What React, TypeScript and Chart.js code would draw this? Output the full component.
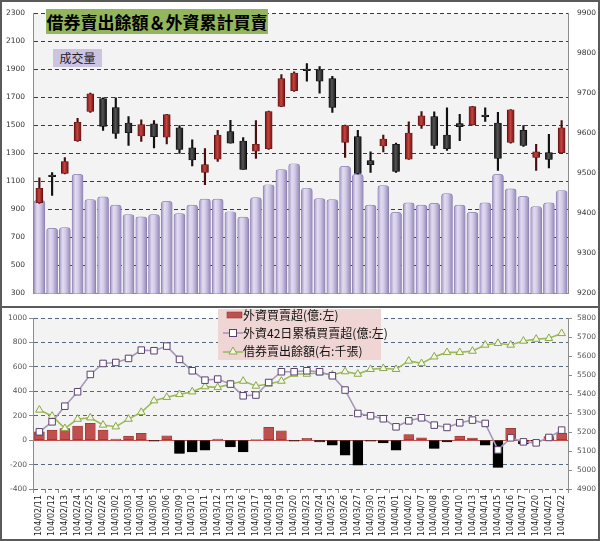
import React, { useEffect, useRef } from "react";
import { Chart, registerables } from "chart.js";

Chart.register(...registerables);

// ---------- data ----------
const dates = [
  "104/02/11", "104/02/12", "104/02/13", "104/02/24", "104/02/25", "104/02/26",
  "104/03/02", "104/03/03", "104/03/04", "104/03/05", "104/03/06",
  "104/03/09", "104/03/10", "104/03/11", "104/03/12", "104/03/13",
  "104/03/16", "104/03/17", "104/03/18", "104/03/19", "104/03/20",
  "104/03/23", "104/03/24", "104/03/25", "104/03/26", "104/03/27",
  "104/03/30", "104/03/31", "104/04/01", "104/04/02",
  "104/04/07", "104/04/08", "104/04/09", "104/04/10",
  "104/04/13", "104/04/14", "104/04/15", "104/04/16", "104/04/17",
  "104/04/20", "104/04/21", "104/04/22",
];

// 成交量 (億, left axis of top chart)
const volume = [
  965, 765, 771, 1151, 971, 990, 932, 863, 847, 863, 958, 870, 932, 974, 974, 884,
  845, 985, 1077, 1185, 1227, 1052, 978, 971, 1208, 1151, 932, 1070, 879, 948, 932,
  944, 1013, 932, 879, 948, 1151, 1047, 994, 921, 948, 1036,
];

// index candles (right axis of top chart)
const openP = [
  9427, 9496, 9500, 9582, 9655, 9687, 9665, 9626, 9594, 9624, 9591, 9614, 9564, 9503,
  9536, 9605, 9581, 9556, 9562, 9668, 9707, 9761, 9759, 9737, 9578, 9592, 9532, 9569,
  9573, 9536, 9620, 9642, 9596, 9625, 9622, 9646, 9626, 9578, 9608, 9540, 9552, 9552,
];
const highP = [
  9489, 9502, 9540, 9638, 9701, 9689, 9689, 9642, 9634, 9632, 9648, 9620, 9584, 9562,
  9608, 9633, 9590, 9632, 9656, 9747, 9754, 9775, 9767, 9743, 9621, 9608, 9554, 9596,
  9576, 9629, 9655, 9654, 9664, 9648, 9668, 9664, 9653, 9660, 9620, 9573, 9598, 9632,
];
const lowP = [
  9425, 9445, 9499, 9580, 9653, 9608, 9588, 9570, 9580, 9564, 9574, 9550, 9519, 9472,
  9530, 9576, 9510, 9538, 9560, 9667, 9705, 9731, 9701, 9653, 9540, 9499, 9503, 9554,
  9503, 9535, 9613, 9562, 9558, 9582, 9621, 9630, 9508, 9576, 9568, 9508, 9514, 9550,
];
const closeP = [
  9463, 9492, 9530, 9628, 9699, 9618, 9600, 9602, 9622, 9592, 9647, 9560, 9534, 9522,
  9596, 9576, 9510, 9573, 9655, 9737, 9751, 9757, 9731, 9665, 9620, 9500, 9522, 9586,
  9505, 9601, 9644, 9570, 9562, 9617, 9667, 9642, 9538, 9659, 9570, 9554, 9535, 9614,
];

// 外資買賣超 (億, left axis of bottom chart)
const foreignNet = [
  68, 82, 95, 115, 137, 82, 8, 33, 55, -8, 35, -109, -96, -82, 8, -55, -96, 3, 104, 76,
  -8, 14, -14, -41, -123, -205, -8, -22, -82, 46, 19, -68, -15, 33, 16, -41, -224, 96,
  -30, -8, 30, 55,
];
// 外資42日累積買賣超 (億, left axis)
const foreignCum42 = [
  68, 150, 278, 396, 538, 628, 636, 669, 737, 732, 770, 661, 568, 491, 500, 459, 363,
  369, 472, 560, 560, 568, 560, 527, 410, 218, 199, 175, 109, 158, 183, 123, 104, 142,
  164, 137, -80, 19, -14, -22, 22, 82,
];
// 借券賣出餘額 (千張, right axis)
const shortBalance = [
  5316, 5284, 5219, 5268, 5275, 5237, 5228, 5268, 5304, 5365, 5383, 5398, 5412, 5439,
  5435, 5451, 5468, 5442, 5453, 5468, 5505, 5505, 5512, 5500, 5518, 5505, 5530, 5535,
  5530, 5574, 5561, 5596, 5619, 5619, 5626, 5658, 5667, 5658, 5679, 5689, 5693, 5719,
];

const titleText = "借券賣出餘額＆外資累計買賣";
const volumeLabel = "成交量";
const legendNet = "外資買賣超(億:左)";
const legendCum = "外資42日累積買賣超(億:左)";
const legendShort = "借券賣出餘額(右:千張)";

// ---------- helpers ----------
const tickFont = { family: "DejaVu Sans", size: 7.5 };
const plain = (v: any) => String(v);

function hGrad(c: any, half: number, stops: [number, string][], fallback: string) {
  if (!c || c.type !== "data" || c.dataIndex == null) return fallback;
  const chart = c.chart;
  const xs = chart.scales && chart.scales.x;
  if (!xs) return fallback;
  const cx = xs.getPixelForValue(c.dataIndex);
  if (!isFinite(cx)) return fallback;
  const g = chart.ctx.createLinearGradient(cx - half, 0, cx + half, 0);
  stops.forEach(([o, col]) => g.addColorStop(o, col));
  return g;
}

const isUp = (i: number) => closeP[i] - openP[i] > 5;

const plotBg = {
  id: "plotBg",
  beforeDraw(chart: any) {
    const { ctx, chartArea } = chart;
    if (!chartArea) return;
    ctx.save();
    ctx.fillStyle = "#f3f3f3";
    ctx.fillRect(chartArea.left, chartArea.top, chartArea.right - chartArea.left, chartArea.bottom - chartArea.top);
    ctx.restore();
  },
};

export default function App() {
  const topRef = useRef<HTMLCanvasElement>(null);
  const botRef = useRef<HTMLCanvasElement>(null);

  useEffect(() => {
    document.body.style.margin = "0";
    const wicks = dates.map((_, i) => [lowP[i], highP[i]]);
    const bodies = dates.map((_, i) => [openP[i], closeP[i]]);

    const top = new Chart(topRef.current as HTMLCanvasElement, {
      type: "bar",
      data: {
        labels: dates,
        datasets: [
          {
            label: volumeLabel,
            data: volume,
            yAxisID: "yL",
            grouped: false,
            order: 3,
            barThickness: 11,
            backgroundColor: (c: any) =>
              hGrad(c, 5.5, [[0, "#a497c6"], [0.3, "#e2dcf0"], [0.55, "#d4cbe8"], [1, "#9487b8"]], "#c9bfe0"),
            borderColor: "#8d80b2",
            borderWidth: 0.7,
            borderSkipped: "bottom",
            borderRadius: { topLeft: 3, topRight: 3, bottomLeft: 0, bottomRight: 0 },
          } as any,
          {
            label: "wick",
            data: wicks,
            yAxisID: "yR",
            grouped: false,
            order: 2,
            barThickness: 1.5,
            backgroundColor: dates.map((_, i) => (isUp(i) ? "#4a1010" : "#111111")),
          } as any,
          {
            label: "body",
            data: bodies,
            yAxisID: "yR",
            grouped: false,
            order: 1,
            barThickness: 7,
            backgroundColor: (c: any) => {
              const i = c.dataIndex;
              if (i == null) return "#333";
              return isUp(i)
                ? hGrad(c, 3.5, [[0, "#6e1414"], [0.45, "#c9443e"], [1, "#6a1212"]], "#b03030")
                : hGrad(c, 3.5, [[0, "#151515"], [0.45, "#555555"], [1, "#111111"]], "#222");
            },
            borderColor: dates.map((_, i) => (isUp(i) ? "#5a1010" : "#000")),
            borderWidth: 0.6,
            borderSkipped: false,
          } as any,
        ],
      },
      options: {
        responsive: false,
        animation: false,
        layout: { padding: { top: 10, bottom: 7, left: 0, right: 0 } },
        plugins: { legend: { display: false }, tooltip: { enabled: false } },
        scales: {
          x: {
            offset: true,
            grid: { display: false },
            ticks: { display: false },
            border: { display: true, color: "#8c8c8c" },
            afterFit: (s: any) => {
              s.height = 0;
            },
          },
          yL: {
            position: "left",
            min: 300,
            max: 2300,
            ticks: { stepSize: 200, color: "#333", font: tickFont, padding: 8, callback: plain },
            grid: { color: "#3a3a3a", lineWidth: 1, drawTicks: false },
            border: { display: true, color: "#8c8c8c", dash: [4, 3] },
            afterFit: (s: any) => {
              s.width = 33;
            },
          },
          yR: {
            position: "right",
            min: 9200,
            max: 9900,
            ticks: { stepSize: 100, color: "#333", font: tickFont, padding: 9, callback: plain },
            grid: { display: false, drawTicks: false },
            border: { display: true, color: "#8c8c8c" },
            afterFit: (s: any) => {
              s.width = 32;
            },
          },
        },
      } as any,
      plugins: [plotBg],
    });

    const bot = new Chart(botRef.current as HTMLCanvasElement, {
      type: "bar",
      data: {
        labels: dates,
        datasets: [
          {
            type: "line",
            label: legendCum,
            data: foreignCum42,
            yAxisID: "yL",
            order: 1,
            borderColor: "#a797b9",
            borderWidth: 1.6,
            tension: 0,
            pointStyle: "rect",
            pointRadius: 4.6,
            pointBackgroundColor: "#ffffff",
            pointBorderColor: "#5a4070",
            pointBorderWidth: 1,
          } as any,
          {
            type: "line",
            label: legendShort,
            data: shortBalance,
            yAxisID: "yR",
            order: 2,
            borderColor: "#9bbb59",
            borderWidth: 1.6,
            tension: 0,
            pointStyle: "triangle",
            pointRadius: 4.4,
            pointBackgroundColor: "#f4f6e4",
            pointBorderColor: "#8aa84a",
            pointBorderWidth: 1,
          } as any,
          {
            type: "bar",
            label: legendNet,
            data: foreignNet,
            yAxisID: "yL",
            order: 3,
            barThickness: 10,
            backgroundColor: foreignNet.map((v) => (v >= 0 ? "#c0504d" : "#000000")),
            borderColor: foreignNet.map((v) => (v >= 0 ? "#8f3a38" : "#000000")),
            borderWidth: 0.6,
            borderSkipped: false,
          } as any,
        ],
      },
      options: {
        responsive: false,
        animation: false,
        layout: { padding: { top: 10, bottom: 0, left: 0, right: 0 } },
        plugins: { legend: { display: false }, tooltip: { enabled: false } },
        scales: {
          x: {
            offset: true,
            grid: { display: true, drawOnChartArea: false, drawTicks: true, tickLength: 4, color: "#8c8c8c", offset: true },
            border: { display: false },
            ticks: {
              autoSkip: false,
              maxRotation: 90,
              minRotation: 90,
              color: "#222",
              font: { family: "DejaVu Sans", size: 8 },
              padding: 2,
            },
            afterFit: (s: any) => {
              s.height = 52;
            },
          },
          yL: {
            position: "left",
            min: -400,
            max: 1000,
            ticks: { stepSize: 200, color: "#555", font: tickFont, padding: 2, callback: plain },
            grid: {
              color: (c: any) => (c.tick && c.tick.value === 0 ? "#c0504d" : "#56667e"),
              lineWidth: 1,
              drawTicks: true,
              tickLength: 4,
              tickColor: "#8c8c8c",
            },
            border: {
              display: true,
              color: "#8c8c8c",
              dash: (c: any) => (c.tick && c.tick.value === 0 ? [] : [4, 3]),
            },
            afterFit: (s: any) => {
              s.width = 33;
            },
          },
          yR: {
            position: "right",
            min: 4900,
            max: 5800,
            ticks: { stepSize: 100, color: "#555", font: tickFont, padding: 5, callback: plain },
            grid: { display: true, drawOnChartArea: false, drawTicks: true, tickLength: 4, color: "#8c8c8c" },
            border: { display: true, color: "#8c8c8c" },
            afterFit: (s: any) => {
              s.width = 32;
            },
          },
        },
      } as any,
      plugins: [plotBg],
    });

    return () => {
      top.destroy();
      bot.destroy();
    };
  }, []);

  const legendRow = (centerY: number, kind: string, text: string) => (
    <div
      key={text}
      style={{
        position: "absolute",
        left: 0,
        top: centerY - 9,
        height: 18,
        display: "flex",
        alignItems: "center",
        whiteSpace: "nowrap",
      }}
    >
      <svg width={25} height={14} style={{ display: "block" }}>
        {kind === "bar" && <rect x={9} y={4} width={15} height={6} fill="#c0504d" stroke="#8f3a38" strokeWidth={0.6} />}
        {kind === "square" && (
          <g>
            <line x1={5} y1={7} x2={25} y2={7} stroke="#a797b9" strokeWidth={1.6} />
            <rect x={11.5} y={3.5} width={7} height={7} fill="#fff" stroke="#5a4070" strokeWidth={1} />
          </g>
        )}
        {kind === "tri" && (
          <g>
            <line x1={5} y1={8} x2={25} y2={8} stroke="#9bbb59" strokeWidth={1.6} />
            <polygon points="15,3 19,10 11,10" fill="#f4f6e4" stroke="#8aa84a" strokeWidth={1} />
          </g>
        )}
      </svg>
      <span style={{ fontFamily: "'Noto Sans CJK TC', sans-serif", fontSize: 12, color: "#111", lineHeight: "18px" }}>
        {text}
      </span>
    </div>
  );

  return (
    <div style={{ position: "relative", width: 600, height: 541, background: "#ffffff", overflow: "hidden" }}>
      <canvas ref={topRef} width={600} height={307} style={{ position: "absolute", left: 0, top: 0, width: 600, height: 307 }} />
      <canvas ref={botRef} width={600} height={233} style={{ position: "absolute", left: 0, top: 308, width: 600, height: 233 }} />
      <div
        style={{
          position: "absolute",
          left: 46,
          top: 9,
          width: 222,
          height: 25,
          background: "#93b55b",
          fontFamily: "'Noto Sans CJK TC', sans-serif",
          fontWeight: 700,
          fontSize: 17,
          lineHeight: "25px",
          color: "#000",
          textAlign: "center",
          whiteSpace: "nowrap",
        }}
      >
        {titleText}
      </div>
      <div
        style={{
          position: "absolute",
          left: 53,
          top: 49,
          width: 49,
          height: 18,
          background: "#cdc4e2",
          fontFamily: "'Noto Sans CJK TC', sans-serif",
          fontSize: 12,
          lineHeight: "18px",
          color: "#222",
          textAlign: "center",
        }}
      >
        {volumeLabel}
      </div>
      <div style={{ position: "absolute", left: 218, top: 309, width: 163, height: 51, background: "#efd6d5" }}>
        {legendRow(6, "bar", legendNet)}
        {legendRow(24, "square", legendCum)}
        {legendRow(42, "tri", legendShort)}
      </div>
      <div style={{ position: "absolute", left: 0, top: 306, width: 600, height: 2, background: "#5a5a5a" }} />
      <div
        style={{
          position: "absolute",
          left: 0,
          top: 0,
          width: 600,
          height: 541,
          boxSizing: "border-box",
          border: "2px solid #5a5a5a",
          pointerEvents: "none",
        }}
      />
    </div>
  );
}
